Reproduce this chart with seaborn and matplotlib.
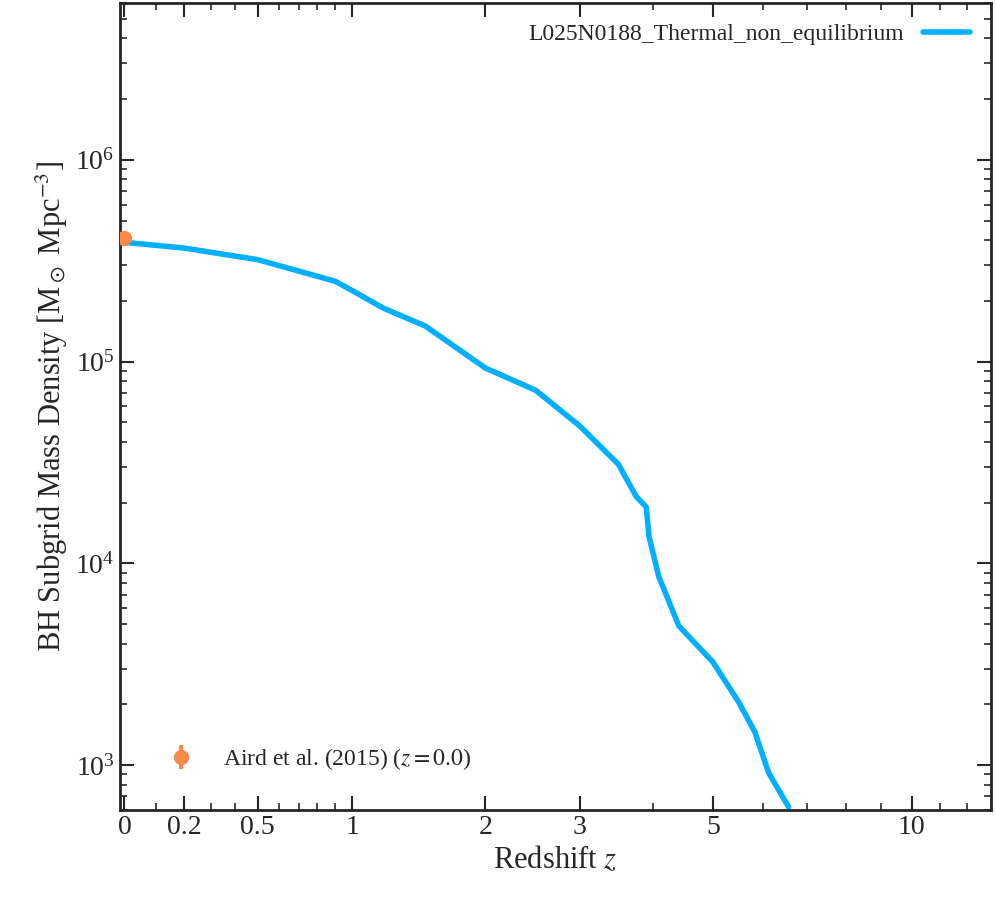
import numpy as np
import pandas as pd
import matplotlib
matplotlib.use("Agg")
import matplotlib.pyplot as plt
import seaborn as sns

z_sim = [0.0, 0.2, 0.5, 0.9, 1.0, 1.2, 1.5, 2.0, 2.5, 3.0, 3.5, 3.75, 3.9, 3.94, 4.09, 4.41, 5.0, 5.49, 5.82, 6.11, 6.56]
rho_sim = [3.9e5, 3.65e5, 3.2e5, 2.5e5, 2.25e5, 1.84e5, 1.5e5, 9.3e4, 7.2e4, 4.8e4, 3.1e4, 2.15e4, 1.9e4, 1.36e4, 8.6e3, 4.9e3, 3.25e3, 2.06e3, 1.46e3, 920, 620]
z_obs = [0.0]
rho_obs = [4.1e5]
rho_err = [0.3e5]
xtick_z = [0, 0.2, 0.5, 1, 2, 3, 5, 10]
xtick_labels = ["0", "0.2", "0.5", "1", "2", "3", "5", "10"]

sns.set_theme(style="ticks")
plt.rcParams['font.family'] = ['Liberation Serif', 'DejaVu Serif']
plt.rcParams['mathtext.fontset'] = 'stix'

fig, ax = plt.subplots(figsize=(9.96, 9.0), dpi=100)
df = pd.DataFrame({"x": np.log10(1 + np.array(z_sim)), "y": rho_sim})
sns.lineplot(data=df, x="x", y="y", ax=ax, color="#00b0ff", lw=4,
             label="L025N0188_Thermal_non_equilibrium")
ax.errorbar(np.log10(1 + np.array(z_obs)), rho_obs, yerr=rho_err, fmt="o",
            color="#fa8a45", ms=10, elinewidth=3, label=r"Aird et al. (2015) ($z=0.0$)", zorder=5)
ax.set_yscale("log")
ax.set_xlim(np.log10(1 - 0.015), np.log10(14))
ax.set_ylim(600, 6e6)
ax.set_xticks(np.log10(1 + np.array(xtick_z)))
ax.set_xticklabels(xtick_labels)
minor = [z for z in list(np.arange(0.1, 1, 0.1)) + list(range(2, 14)) if z not in xtick_z]
ax.set_xticks(np.log10(1 + np.array(minor)), minor=True)
ax.tick_params(which="both", direction="in", top=True, right=True, labelsize=20)
ax.tick_params(which="major", length=10, width=1.5)
ax.tick_params(which="minor", length=5, width=1.2)
for s in ax.spines.values():
    s.set_linewidth(2)
ax.set_xlabel(r"Redshift $z$", fontsize=22)
ax.set_ylabel(r"BH Subgrid Mass Density [M$_\odot$ Mpc$^{-3}$]", fontsize=22)
h, l = ax.get_legend_handles_labels()
leg1 = ax.legend([h[0]], [l[0]], loc="upper right", frameon=False, fontsize=17, markerfirst=False)
ax.add_artist(leg1)
ax.legend([h[1]], [l[1]], loc="lower left", frameon=False, fontsize=17, borderaxespad=1.2)
fig.subplots_adjust(left=0.12, right=0.995, top=0.997, bottom=0.1)
fig.savefig("out.png", dpi=100)
